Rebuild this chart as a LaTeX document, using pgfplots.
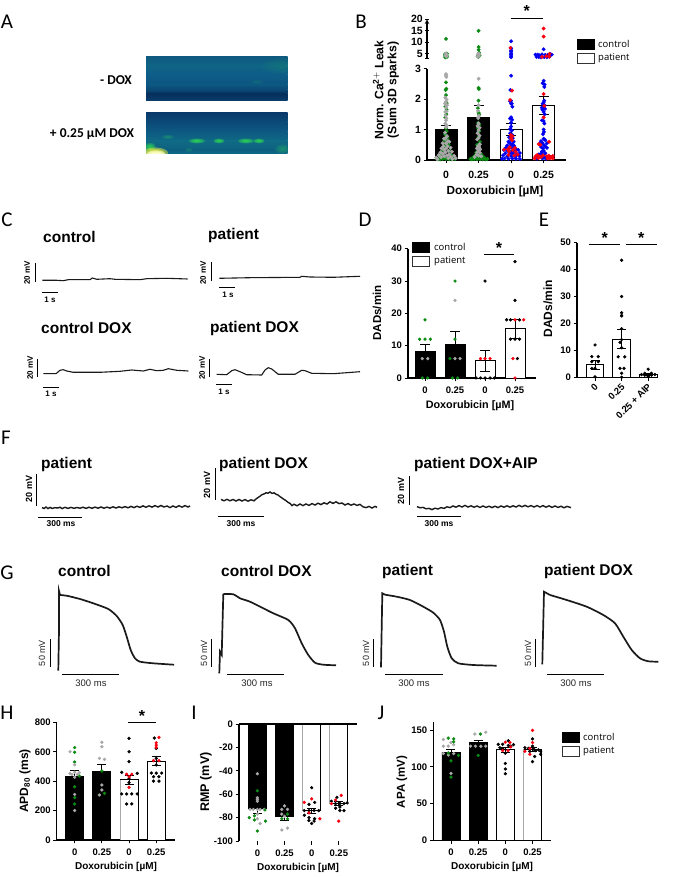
\documentclass[border=0pt]{standalone}
\usepackage{pgfplots}
\pgfplotsset{compat=1.18}
\usepackage{fontspec}
\setmainfont{Liberation Sans}
\newfontfamily\calfont{Carlito}
\newfontfamily\osans{Open Sans}
\newcommand\fs[1]{\fontsize{#1}{#1}\selectfont}
\definecolor{grn}{HTML}{0A8A12}
\definecolor{gry}{HTML}{A8A8A8}
\definecolor{blu}{HTML}{0000F0}
\definecolor{rd}{HTML}{F80010}
\definecolor{trace}{HTML}{1A1A1A}
\definecolor{a1}{HTML}{0F5A80}\definecolor{a2}{HTML}{0F6485}\definecolor{a3}{HTML}{0E5C88}\definecolor{a4}{HTML}{0C5680}\definecolor{a5}{HTML}{0A4672}\definecolor{a6}{HTML}{06305E}\definecolor{a7}{HTML}{0A3E6C}
\definecolor{b1}{HTML}{0A3A6C}\definecolor{b2}{HTML}{0B4A78}\definecolor{b3}{HTML}{0D5A82}\definecolor{b4}{HTML}{0F6A85}\definecolor{b5}{HTML}{0E6080}\definecolor{b6}{HTML}{0E6A85}
\definecolor{spot}{HTML}{30E050}\definecolor{dim}{HTML}{1FA070}\definecolor{ylw}{HTML}{E8F040}\definecolor{wy}{HTML}{FFFFD0}
\newcommand\pts[3]{\addplot[only marks,mark=*,mark size=#2pt,color=#1,mark options={draw=none,fill=#1}] coordinates {#3};}
\newcommand\bars[3]{\addplot[ybar,bar width=#1pt,bar shift=0pt,fill=#2,draw=black,line width=0.9pt] coordinates {#3};}
\newcommand\errs[2][4]{\addplot[draw=none,mark=none,error bars/.cd,y dir=both,y explicit,error bar style={black,line width=0.8pt},error mark options={rotate=90,black,mark size=#1pt,line width=0.8pt}] coordinates {#2};}
\pgfplotsset{panel/.style={scale only axis,clip=false,axis lines=left,
  axis line style={-,line width=1.1pt},tick style={black,line width=0.9pt},
  tick align=outside,major tick length=3.5pt,
  /pgf/number format/assume math mode=true,
  tick label style={font=\bfseries\fs{9.5}},
  xtick={0,1,2,3},xticklabels={0,0.25,0,0.25},
  yticklabel style={xshift=1pt},xticklabel style={yshift=-1.5pt}}}
\newcommand\blob[6]{%
  \fill[#5,opacity=#6] (#1,#2) ellipse [x radius=#3pt,y radius=#4pt];
  \fill[#5,opacity=#6] (#1,#2) ellipse [x radius=0.75*#3pt,y radius=0.75*#4pt];
  \fill[#5,opacity=#6] (#1,#2) ellipse [x radius=0.5*#3pt,y radius=0.5*#4pt];
  \fill[#5,opacity=#6] (#1,#2) ellipse [x radius=0.28*#3pt,y radius=0.28*#4pt];}
\newcommand\vb[3]{\draw[black,line width=0.9pt] (#1,#2)--(#1,#3);}
\newcommand\hb[3]{\draw[black,line width=0.9pt] (#1,#3)--(#2,#3);}
\newcommand\vlab[4][8]{\node[rotate=90,inner sep=0,font=\bfseries\fs{#1}] at (#2,#3) {#4};}
\newcommand\vlabn[3]{\node[rotate=90,inner sep=0,text=black!85,font=\fs{9}] at (#1,#2) {#3};}
\newcommand\lab[4][8]{\node[inner sep=0,font=\bfseries\fs{#1}] at (#2,#3) {#4};}
\newcommand\labn[3]{\node[inner sep=0,text=black!85,font=\fs{9.5}] at (#1,#2) {#3};}
\newcommand\ttl[3]{\node[anchor=west,inner sep=0,font=\bfseries\fs{15.5}] at (#1,#2) {#3};}
\newcommand\letter[3]{\node[inner sep=0,font=\calfont\fs{21}] at (#1,#2) {#3};}
\newcommand\legd[4]{%
  \fill[black] (#1,#2) rectangle (#1+17,#2+10);\draw[black,line width=0.7pt] (#1,#2) rectangle (#1+17,#2+10);
  \draw[black!80,line width=0.7pt] (#1,#3) rectangle (#1+17,#3+10);
  \node[anchor=west,inner sep=0,font=\osans\fs{9.5}] at (#4,#2+5) {control};
  \node[anchor=west,inner sep=0,font=\osans\fs{9.5}] at (#4,#3+5) {patient};}
\newcommand\xl[3][10]{\node[inner sep=0,font=\bfseries\fs{#1}] at (#2,#3) {Doxorubicin [µM]};}
\newcommand\yl[4][11.5]{\node[rotate=90,inner sep=0,font=\bfseries\fs{#1}] at (#2,#3) {#4};}
\newcommand\sig[4]{\draw[black,line width=1pt] (#1,#3)--(#2,#3);\node[inner sep=0,font=\bfseries\fs{16}] at ({(#1+#2)/2},#4) {*};}
\begin{document}
\begin{tikzpicture}[x=1pt,y=1pt]
\path[use as bounding box] (0,0) rectangle (677,877);

%% canvas axis for traces, in image pixels
\begin{axis}[at={(0,0)},anchor=south west,scale only axis,width=677pt,height=877pt,
  xmin=0,xmax=677,ymin=0,ymax=877,y dir=reverse,hide axis,clip=false]
% C
\addplot[trace,line width=1.1pt] coordinates {(42.3,280.3)(56.7,280.3)(63.3,280.7)(68.3,279.7)(90,279.7)(92.3,278)(96.7,279.3)(110,278.7)(115,279.3)(140,279.7)(146.7,278.7)(166.7,278.3)(187.7,279)};
\addplot[trace,line width=1.1pt] coordinates {(219.3,278.3)(250,277.7)(300,277.3)(301.7,276.3)(310,277)(333.3,277.3)(360,276.3)};
\addplot[trace,line width=1.1pt] coordinates {(43.3,373.7)(56,373.7)(60,370.3)(63.3,369.7)(66.7,371)(73.3,372.3)(100,372.3)(120,371.3)(131.7,370)(143.3,371)(150,369.3)(156.7,370.7)(163.3,370.3)(168.3,368.7)(176.7,370.3)(188.3,371)};
\addplot[trace,line width=1.1pt] coordinates {(216.7,374.3)(226.7,374.7)(231.7,370.7)(235,369.7)(240,371.7)(246.7,374.7)(261.7,375)(265,370)(268.3,367.7)(271.7,369)(278.3,374.3)(295,374.3)(301.7,370.3)(305,370.7)(311.7,373.3)(333.3,373.7)(360,371.7)};
% F
\addplot[trace,line width=1.4pt] coordinates {(42,507.5)(44,508.5)(46,507)(48,508.6)(50,507.4)(52,508.4)(55,507.7)(58,508)(60,507.2)(62,508.6)(65,507.3)(68,508.4)(71,507.4)(74,508.3)(77,507.5)(80,508.2)(83,507.2)(86,508.4)(89,507.2)(92,508.3)(95,507.1)(98,508.2)(101,507)(104,508.2)(107,507.1)(110,508.1)(113,506.8)(116,508)(119,506.8)(122,507.8)(125,506.6)(128,507.8)(131,506.4)(134,507.6)(137,506.2)(140,507.4)(143,505.9)(146,507.3)(149,505.8)(152,507.1)(155,505.6)(158,507)(161,505.5)(164,507)(167,506)(170,507.6)(173,506)(176,507.4)(179,505.7)(182,507.2)(185,505.6)(188,507)(190,506)};
\addplot[trace,line width=1.4pt] coordinates {(221,499.4)(224,500.8)(227,499.3)(230,500.8)(233,499.5)(236,501)(239,499.5)(242,501)(245,499.6)(248,501.2)(251,499.8)(254,500.8)(256,499)(258,497.5)(260,496.2)(262,494.6)(264,494)(266,492.8)(268,493.2)(270,492)(272,493.4)(274,492.8)(276,494.2)(278,495)(280,496.6)(282,498)(284,499.4)(286,500.6)(288,502.4)(290,503.4)(292,505.6)(294,504.2)(297,505.8)(300,504)(303,505.6)(306,504)(309,505.4)(312,503.6)(315,505)(318,503.2)(321,504.6)(324,502.8)(327,504)(330,501.8)(333,503.4)(336,501.8)(339,503.6)(342,503)(345,505)(348,503.6)(351,505.2)(354,504)(357,505.4)(360,504.4)(363,506.8)(366,507.6)(369,506.4)(372,508)(375,506.4)(377,507.4)};
\addplot[trace,line width=1.4pt] coordinates {(417,506.6)(420,507.8)(423,507.4)(426,508.8)(429,508.4)(432,509.6)(435,508.2)(438,509)(441,507.6)(444,508.4)(447,506.8)(450,507.6)(453,506)(456,507.2)(459,505.6)(462,507)(465,505.4)(468,507)(471,505.8)(474,507.2)(477,506)(480,507.4)(483,506)(486,507.4)(489,506.2)(492,507.6)(495,506.2)(498,507.6)(501,506)(504,507.2)(507,505.8)(510,507.2)(513,505.8)(516,507)(519,505.4)(522,506.8)(525,505.4)(528,506.8)(531,505.6)(534,507)(537,505.6)(540,507)(543,505.6)(546,507.2)(549,505.8)(552,507.4)(555,506)(558,507.4)(561,506.2)(564,507.8)(567,506.4)(571,507.6)};
% G
\addplot[trace,line width=1.7pt] coordinates {(58.3,670.7)(59,630)(59,591)(60,595)};
\addplot[trace,line width=1.7pt,smooth,tension=0.4] coordinates {(60,595)(66.7,595.7)(80,599)(93.3,603.3)(108.3,609)(116.7,616)(122.7,625)(126.7,636.7)(130.7,650)(135,658.3)(140,661.7)(153.3,663.3)(174,664.7)};
\addplot[trace,line width=1.7pt] coordinates {(219.3,673.3)(220,651.7)(221.7,655)(223.3,594)};
\addplot[trace,line width=1.7pt,smooth,tension=0.4] coordinates {(223.3,594)(233.3,594.3)(240,598.3)(250,601.7)(263.3,608.3)(273.3,613.3)(288.3,620)(295,628.3)(301.7,643.3)(308.3,655)(315,662.7)(323.3,664.7)(336,665.3)};
\addplot[trace,line width=1.7pt] coordinates {(381,667.3)(382.3,593.3)(385,594.7)};
\addplot[trace,line width=1.7pt,smooth,tension=0.4] coordinates {(385,594.7)(396.7,596.7)(410,600)(423.3,606.7)(433.3,612.7)(440,620)(444,631.7)(447.3,646.7)(451.7,658.3)(458.3,663.3)(473.3,665)(496.7,665.7)};
\addplot[trace,line width=1.7pt] coordinates {(542.3,664.3)(544,591.7)(550,595)};
\addplot[trace,line width=1.7pt,smooth,tension=0.4] coordinates {(550,595)(566.7,600)(586.7,606.7)(603.3,615)(615,623.3)(623.3,636.7)(631.7,650)(640,658.3)(648.3,661.3)(658.3,661.7)};
\end{axis}

%% B lower
\begin{axis}[panel,at={(427pt,717pt)},anchor=south west,width=139pt,height=91.3pt,
  tick label style={font=\bfseries\fs{10.5}},
  xmin=-0.584,xmax=3.687,ymin=0,ymax=3,ytick={0,1,2,3},
  xticklabel style={yshift=-3pt}]
\bars{22}{black}{(0,1)(1,1.4)}
\bars{22}{white}{(2,1)(3,1.8)}
\pts{grn}{1.75}{(0,2.55)(0.01,2.34)(-0.01,2.3)(0,2.13)(0.02,1.87)(-0.02,1.75)(0.02,1.65)(0.01,1.5)(-0.02,1.4)(0,1.05)(0.02,0.95)(-0.03,0.85)(0,0.8)(0.05,0.72)(-0.05,0.65)(0.02,0.6)(-0.02,0.48)(0.08,0.5)(-0.09,0.42)(0.1,0.3)(-0.13,0.28)(0.15,0.18)(-0.16,0.15)(-0.22,0.08)(0.22,0.07)(-0.28,0.03)(0.28,0.03)(-0.1,0.04)(0.1,0.03)(-0.18,0.02)(0.18,0.02)(0,0.03)(0.05,0.06)(-0.05,0.08)}
\pts{gry}{1.75}{(0,2.82)(0,2.77)(0.01,2.73)(-0.02,2.05)(0.02,1.98)(0,1.92)(-0.03,1.85)(0.03,1.8)(0,1.72)(0.02,1.6)(-0.02,1.58)(-0.01,1.45)(0.01,1.36)(0,1.3)(-0.02,1.2)(0.02,1.13)(0,1.08)(-0.03,0.9)(0.03,0.78)(-0.06,0.7)(0.06,0.62)(-0.02,0.7)(-0.1,0.55)(0.1,0.6)(0,0.55)(-0.08,0.45)(0.05,0.45)(-0.14,0.38)(0.14,0.4)(0,0.38)(-0.06,0.33)(0.07,0.3)(-0.17,0.25)(0.18,0.27)(-0.02,0.25)(-0.1,0.2)(0.1,0.18)(-0.22,0.16)(0.25,0.14)(0.03,0.15)(-0.05,0.12)(-0.15,0.09)(0.15,0.1)(-0.3,0.08)(0.3,0.06)(0.07,0.06)(-0.26,0.02)(0.2,0.03)}
\pts{grn}{1.75}{(1,2.37)(1.01,2.33)(1,1.95)(0.98,1.7)(1,1.55)(1.02,1.5)(0.99,1.22)(1.02,1.15)(0.98,1.05)(1.02,0.95)(0.98,0.9)(1,0.75)(1.04,0.6)(0.96,0.5)(1,0.3)(0.93,0.25)(1.07,0.2)(0.9,0.15)(1.1,0.16)(0.85,0.1)(1.15,0.1)(0.8,0.05)(1.2,0.05)(0.75,0.03)(1.27,0.03)(0.87,0.03)(1.13,0.02)(0.95,0.02)(1.05,0.03)(1,0.06)(0.92,0.07)(1.08,0.07)(0.8,0.02)(1.22,0.02)}
\pts{gry}{1.75}{(1,2.67)(1,1.8)(0.98,1.62)(1.01,1.45)(0.99,1.38)(1,1.2)(0.97,1.12)(1.03,1.06)(1,0.98)(0.97,0.88)(1.03,0.8)(1,0.72)(0.96,0.68)(1.04,0.52)(0.98,0.45)(1.02,0.42)(0.95,0.38)(1.05,0.35)(1,0.32)(0.96,0.25)(1.04,0.24)(0.94,0.18)(1,0.14)(1.08,0.12)(0.88,0.1)}
\pts{blu}{1.75}{(2,2.77)(1.98,2.3)(2,1.95)(1.97,1.93)(2.02,1.85)(2.04,1.75)(2,1.85)(2,1.4)(1.97,1.36)(2.03,1.32)(2,1.22)(2,1.1)(1.97,1.02)(2.02,0.97)(1.97,0.88)(2.03,0.83)(1.94,0.75)(2.05,0.72)(2,0.66)(1.92,0.6)(2.08,0.6)(1.96,0.55)(2.04,0.53)(1.88,0.48)(2.1,0.46)(2,0.46)(1.84,0.4)(1.94,0.38)(2.06,0.38)(2.15,0.36)(1.78,0.33)(1.88,0.3)(2,0.28)(2.1,0.3)(2.22,0.33)(1.82,0.22)(1.95,0.2)(2.05,0.22)(2.17,0.2)(2.27,0.23)(1.75,0.15)(1.88,0.12)(2,0.13)(2.12,0.12)(2.25,0.13)(1.8,0.05)(1.92,0.04)(2.04,0.05)(2.15,0.04)(2.27,0.03)(1.72,0.04)}
\pts{rd}{1.75}{(2.03,2.28)(1.97,1.97)(1.99,0.82)(2.04,0.78)(2,0.72)(2.03,0.65)(1.96,0.42)(1.9,0.35)(2.12,0.4)(1.78,0.34)(2.05,0.33)(2.14,0.27)(1.94,0.28)(2.2,0.18)(1.92,0.17)(2.1,0.15)}
\pts{blu}{1.75}{(3,2.6)(2.97,2.52)(3.03,2.48)(3.02,2.4)(3.02,1.95)(3,1.9)(2.97,1.85)(3.03,1.8)(2.94,1.72)(3,1.72)(3.04,1.68)(2.96,1.65)(3,1.58)(3.03,1.5)(2.95,1.3)(3,1.28)(3.02,1.2)(3,1)(3.01,0.92)(2.98,0.85)(3,0.7)(2.92,0.62)(3.05,0.65)(2.96,0.57)(3.1,0.55)(2.88,0.53)(3,0.5)(3.05,0.45)(2.92,0.43)(2.98,0.38)(3.1,0.4)(3,0.3)(2.95,0.28)(3.05,0.22)(2.93,0.22)(3,0.14)(2.85,0.18)(3.02,0.08)(2.96,0.05)(3.08,0.04)(2.8,0.04)}
\pts{rd}{1.75}{(3,2.17)(3.02,1.78)(3,1.4)(3.17,0.6)(2.85,0.52)(2.9,0.5)(2.75,0.12)(2.8,0.16)(2.86,0.12)(2.92,0.1)(2.98,0.15)(3.1,0.12)(3.16,0.14)(3.22,0.1)(3.28,0.13)(2.72,0.05)(2.84,0.06)(3.12,0.05)(3.2,0.05)(3.28,0.05)}
\errs[5]{(0,1)+-(0,0.13)(1,1.4)+-(0,0.4)(2,1)+-(0,0.2)(3,1.8)+-(0,0.3)}
\end{axis}

%% B upper
\begin{axis}[panel,at={(427pt,818.7pt)},anchor=south west,width=139pt,height=39pt,
  tick label style={font=\bfseries\fs{10.5}},
  xmin=-0.584,xmax=3.687,ymin=3.1,ymax=20,ytick={5,10,15,20},
  extra y ticks={3.1},extra y tick labels={},
  axis x line=none,axis y line=left]
\pts{grn}{1.75}{(0,11.5)(0.03,5.1)(-0.03,4.9)(0.02,4.4)(-0.03,4.1)(0.03,3.7)(-0.02,3.5)(1,15)(1,8)(1,6.8)(1.02,5.5)(1.03,4.4)(0.97,4)(1,3.7)}
\pts{gry}{1.75}{(0,5.2)(0,4.7)(-0.01,4.3)(0.01,3.9)(1,5.1)(0.98,4.7)(1.02,4.9)(1,4.4)(1,4.1)(0.98,3.8)}
\pts{blu}{1.75}{(2,10.5)(2,7.4)(2,6.6)(2,6)(2,5.3)(2,4.7)(2,4.1)(2,3.6)(3,7)(2.75,4.7)(2.82,4.7)(2.88,4.4)(2.95,4.8)(3.05,4.6)(3.12,4.5)(3.2,4.9)(3.25,4.7)(2.78,3.7)(2.85,3.6)(2.92,3.5)(3.02,3.6)(3.1,3.6)(3.18,3.8)}
\pts{rd}{1.75}{(1.98,7.6)(3,16)(3,12.5)(2.95,3.7)(3.08,4)(3.17,3.8)(3.18,5)}
\end{axis}

%% D
\begin{axis}[panel,at={(408pt,499pt)},anchor=south west,width=128pt,height=129.3pt,
  xmin=-0.567,xmax=3.7,ymin=0,ymax=40,ytick={0,10,20,30,40}]
\bars{20}{black}{(0,8.2)(1,10.5)}
\bars{20}{white}{(2,5.3)(3,15.2)}
\errs[5]{(0,8.2)+-(0,2.3)(1,10.5)+-(0,4)(2,5.3)+-(0,3.2)(3,15.2)+-(0,3)}
\pts{grn}{1.45}{(0,18)(-0.18,12)(0,12)(0.18,12)(-0.09,0)(0.09,0)(1,30)(1,12)(0.83,6)(0.91,0)(1.09,0)}
\pts{gry}{1.45}{(-0.09,6)(0.09,6)(1,24)(1,6)(1.17,6)}
\pts{black}{1.45}{(2,30)(1.7,0)(1.85,0)(2,0)(2.17,0)(2.31,0)(3,36)(3,24)(2.72,18)(2.85,18)(3.15,18)(2.85,12)(3,12)(3.15,12)(3.08,6)}
\pts{rd}{1.45}{(1.85,6)(2,6)(2.17,6)(3,18)(3.29,18)(2.93,6)(3,0)}
\end{axis}

%% E
\begin{axis}[panel,at={(577pt,499.7pt)},anchor=south west,width=80.7pt,height=134.6pt,
  xmin=-0.677,xmax=2.357,ymin=0,ymax=50,ytick={0,10,20,30,40,50},
  xtick={0,1,2},xticklabels={0,0.25,0.25 + AIP},
  xticklabel style={rotate=45,anchor=north east,inner sep=1pt,yshift=1.5pt}]
\bars{17.5}{white}{(0,4.7)(1,14.2)(2,1)}
\errs[4.5]{(0,4.7)+-(0,1.6)(1,14.2)+-(0,3.6)(2,1)+-(0,0.4)}
\pts{black}{1.45}{(0,12)(-0.12,7.7)(0.12,7.7)(-0.12,5.8)(0.12,5.8)(0,3.3)(-0.12,3.3)(0,0.2)(1,43.5)(1,30)(1,24)(1,23)(1,22.8)(1,18)(1,14)(0.94,13)(1,11)(0.87,7.6)(1.12,7.6)(0.94,3.3)(1.09,3.3)(1,1.5)(1,0)(2,3)(1.87,1.5)(2.12,1.5)(1.75,1)(1.87,0.8)(2,1)(2.12,0.8)(2.25,1)(2,0.3)}
\end{axis}

%% H
\begin{axis}[panel,at={(56.7pt,37pt)},anchor=south west,width=118.3pt,height=117.7pt,
  xmin=-0.66,xmax=3.69,ymin=0,ymax=800,ytick={0,200,400,600,800}]
\bars{18}{black}{(0,435)(1,468)}
\bars{18}{white}{(2,410)(3,535)}
\addplot[gry,line width=1.1pt] coordinates {(1.67,0)(1.67,410)};
\errs[4.5]{(0,435)+-(0,35)(1,468)+-(0,48)(2,410)+-(0,30)(3,535)+-(0,30)}
\pts{grn}{1.45}{(0,628)(0,596)(0,530)(0.17,435)(0,362)(0,288)(0,245)(1,469)(1.1,317)}
\pts{gry}{1.45}{(-0.17,600)(0,512)(-0.17,453)(0,460)(0.17,458)(0,426)(0,310)(0,200)(-0.1,445)(0.1,445)(1,664)(1,634)(0.91,555)(1.1,548)(1,374)(1,340)(0.91,306)}
\pts{black}{1.45}{(2,691)(2,600)(2,533)(1.73,460)(2.3,453)(1.73,313)(1.91,313)(2.1,313)(2.3,313)(1.91,245)(2.1,245)(2,390)(2,420)(2.93,693)(3,623)(3,555)(3,510)(2.82,455)(3,455)(3.2,455)(2.9,430)(3.1,430)(2.9,400)(3.1,400)}
\pts{rd}{1.45}{(1.91,447)(2.1,447)(2,430)(2,358)(3.1,698)(3,661)(3,645)(3,630)(2.9,540)(3.1,540)}
\end{axis}

%% I
\begin{axis}[panel,at={(239pt,36pt)},anchor=south west,width=117.7pt,height=117pt,
  xmin=-0.678,xmax=3.66,ymin=-100,ymax=0,ytick={0,-20,-40,-60,-80,-100},
  x axis line style={draw=none}]
\bars{18}{black}{(0,-72)(1,-79)}
\bars{18}{white}{(2,-74)(3,-68)}
\addplot[gry,line width=1.1pt] coordinates {(1.67,0)(1.67,-74)};
\addplot[gry,line width=1.1pt] coordinates {(2.67,0)(2.67,-68)};
\addplot[black,line width=1.1pt] coordinates {(-0.678,0)(3.66,0)};
\errs[4.5]{(0,-72)+-(0,4)(1,-79)+-(0,3)(2,-74)+-(0,2)(3,-68)+-(0,2)}
\pts{gry}{1.45}{(0,-42.5)(0,-63)(0,-64.5)(0,-66)(-0.27,-73)(-0.15,-73)(0,-73)(0.1,-73)(0.25,-73)(0,-77)(0,-81)(0.1,-85)(1,-70)(0.9,-73)(1.11,-73)(0.9,-77)(1,-79)(0.9,-90.6)(1.11,-89)}
\pts{grn}{1.45}{(0,-57)(0.28,-73.5)(-0.3,-80)(-0.11,-78.5)(-0.11,-82)(0.3,-83)(0,-91.5)(1.11,-77)(0.9,-81)(1.11,-81)}
\pts{black}{1.45}{(2,-54.4)(1.9,-68.7)(2.11,-67)(1.73,-74)(1.9,-74)(2.09,-74)(2.26,-74)(1.73,-78)(1.9,-80)(2.11,-81)(1.9,-82.5)(2.09,-83)(2,-85)(2.93,-62.7)(2.73,-66)(2.88,-68)(3.04,-68)(3.19,-68)(3.31,-67.5)(2.88,-72)(3.04,-71)(3.04,-74)(3.19,-74)}
\pts{rd}{1.45}{(2,-64)(1.73,-67)(1.9,-76)(2.3,-81)(3.09,-61)(2.88,-65)(2.73,-68)(3,-83)}
\end{axis}

%% J
\begin{axis}[panel,at={(433.3pt,36.7pt)},anchor=south west,width=117.7pt,height=118pt,
  xmin=-0.65,xmax=3.68,ymin=0,ymax=160.5,ytick={0,50,100,150}]
\bars{18}{black}{(0,120)(1,133)}
\bars{18}{white}{(2,123)(3,124)}
\addplot[gry,line width=1.1pt] coordinates {(2.67,0)(2.67,124)};
\errs[4.5]{(0,120)+-(0,4)(1,133)+-(0,3)(2,123)+-(0,3)(3,124)+-(0,3)}
\pts{gry}{1.45}{(-0.28,137)(0,133)(-0.28,128)(-0.1,128)(0.1,130)(-0.28,118)(-0.1,116)(0.1,118)(0,91)(0.88,144.5)(1.28,147)(0.72,128)(0.9,128)(1.1,128)(1.28,128)}
\pts{grn}{1.45}{(-0.1,139)(0.1,138)(0.1,134)(-0.1,119)(0.28,115.5)(0,108)(0,86)(1.08,144.5)(1,115.5)}
\pts{black}{1.45}{(1.74,130.5)(1.9,130.5)(2.11,135.5)(2.3,130)(2.11,129)(1.8,126)(2,118.5)(2,104.6)(2,97)(2,90.6)(2.2,128)(1.9,125)(3,138)(3,128)(2.72,126)(2.85,125)(3.05,124)(3.1,122)(3.22,123)(3.3,121)(3.3,117)(3.08,114)(3,107)(2.9,121)}
\pts{rd}{1.45}{(2,133.5)(2.17,133)(1.9,122)(2.2,127)(2.1,122)(3,149.5)(3,133)(2.9,125)(2.72,121)(2.9,117)}
\end{axis}

%% overlay in image pixels
\begin{scope}[y=-1pt,yshift=877pt]
% panel A images
\begin{scope}
\clip (146,57) rectangle (287.5,100.7);
\shade[top color=a1,bottom color=a2] (146,57) rectangle (287.5,66);
\shade[top color=a2,bottom color=a3] (146,66) rectangle (287.5,75);
\shade[top color=a3,bottom color=a4] (146,75) rectangle (287.5,85);
\shade[top color=a4,bottom color=a5] (146,85) rectangle (287.5,90);
\shade[top color=a5,bottom color=a6] (146,90) rectangle (287.5,94);
\shade[top color=a6,bottom color=a7] (146,94) rectangle (287.5,100.7);
\blob{284}{66}{22}{8}{dim}{0.07}
\blob{257}{82}{6}{2}{dim}{0.08}
\end{scope}
\begin{scope}
\clip (146,113) rectangle (287.5,154);
\shade[top color=b1,bottom color=b2] (146,113) rectangle (287.5,122);
\shade[top color=b2,bottom color=b3] (146,122) rectangle (287.5,132);
\shade[top color=b3,bottom color=b4] (146,132) rectangle (287.5,141);
\shade[top color=b4,bottom color=b5] (146,141) rectangle (287.5,150);
\shade[top color=b5,bottom color=b6] (146,150) rectangle (287.5,154);
\blob{168}{137}{6}{2.2}{dim}{0.22}
\blob{197}{141}{8}{2.4}{spot}{0.35}
\blob{219}{141}{5.5}{2.4}{spot}{0.35}
\blob{246}{141}{8}{2.4}{spot}{0.35}
\blob{259}{141}{5.5}{2.4}{spot}{0.35}
\blob{189}{150}{4}{2}{dim}{0.14}
\blob{283}{149}{8}{4.5}{dim}{0.25}
\blob{150}{147}{6}{4}{spot}{0.3}
\blob{155}{153}{13}{5.5}{ylw}{0.5}
\blob{156}{155}{10}{4.5}{wy}{0.6}
\end{scope}
\node[inner sep=0,font=\calfont\bfseries\fs{13.5}] at (116,80) {- DOX};
\node[inner sep=0,font=\calfont\bfseries\fs{13.5}] at (92,134) {+ 0.25 µM DOX};
\letter{7}{22}{A}\letter{361}{22}{B}\letter{7}{220}{C}\letter{365}{220}{D}\letter{544}{220}{E}
\letter{6}{438}{F}\letter{7}{573}{G}\letter{7}{713}{H}\letter{194}{713}{I}\letter{381}{713}{J}
% B labels
\node[rotate=90,inner sep=0,font=\bfseries\fs{12.2},align=center] at (386,90) {Norm. Ca$^{\mathbf{2+}}$ Leak\\[1pt](Sum 3D sparks)};
\xl[11.8]{495}{191}\legd{577}{39}{53}{598}
\sig{510.7}{542.7}{18.7}{11}
% C
\ttl{43}{237}{control}\ttl{208}{236}{patient}\ttl{41}{328}{control DOX}\ttl{210}{329}{patient DOX}
\vb{35}{263}{282}\vlab{27}{273}{20 mV}\hb{42}{58}{292}\lab{50}{300}{1 s}
\vb{211}{262}{281}\vlab{203}{273}{20 mV}\hb{219}{235}{287}\lab{228}{295}{1 s}
\vb{37}{359}{377}\vlab{30}{368}{20 mV}\hb{43}{59}{387}\lab{51}{394}{1 s}
\vb{209}{359}{377}\vlab{202}{368}{20 mV}\hb{216}{232}{384}\lab{224}{392}{1 s}
% D, E
\yl[11.5]{377}{313}{DADs/min}\xl[10.8]{470}{406}\legd{412}{242}{256}{434}
\sig{484}{514}{254.3}{248}
\yl[12]{548}{309}{DADs/min}
\sig{589.3}{620}{244.7}{238}\sig{625.7}{656.7}{244.7}{238}
% F
\ttl{41}{464}{patient}\ttl{219}{464}{patient DOX}\ttl{414}{464}{patient DOX+AIP}
\vb{36}{474}{506}\vlab[9]{29}{489}{20 mV}\hb{38}{82}{517}\lab[8.5]{61}{524}{300 ms}
\vb{215}{468}{500}\vlab[9]{207}{485}{20 mV}\hb{218}{264}{516}\lab[8.5]{241}{524}{300 ms}
\vb{409}{476}{505}\vlab[9]{401}{491}{20 mV}\hb{417}{461}{516}\lab[8.5]{439}{524}{300 ms}
% G
\ttl{58}{571}{control}\ttl{221}{571}{control DOX}\ttl{382}{571}{patient}\ttl{544}{571}{patient DOX}
\vb{50}{639}{667}\vlabn{42}{653}{50 mV}\hb{62}{119}{674}\labn{91}{683}{300 ms}
\vb{211}{639}{667}\vlabn{204}{653}{50 mV}\hb{227}{284}{674}\labn{257}{683}{300 ms}
\vb{373}{639}{667}\vlabn{366}{653}{50 mV}\hb{385}{443}{674}\labn{414}{683}{300 ms}
\vb{535}{639}{667}\vlabn{528}{653}{50 mV}\hb{547}{604}{674}\labn{576}{683}{300 ms}
% H, I, J
\yl[12]{25}{781}{APD$_{\mathbf{80}}$ (ms)}\xl{116}{867}\sig{128}{156}{722.3}{716}
\yl[12.5]{206}{782}{RMP (mV)}\xl{298}{868}
\yl[11.5]{402}{782}{APA (mV)}\xl{492}{867}\legd{562}{732}{746}{583}
\end{scope}
\end{tikzpicture}
\end{document}
